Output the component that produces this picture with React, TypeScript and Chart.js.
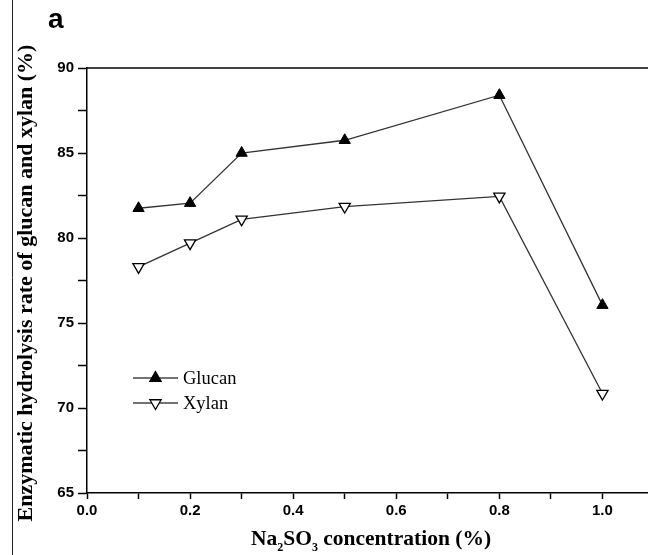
import React, { useEffect, useRef } from "react";
import { Chart, registerables } from "chart.js";

Chart.register(...registerables);

const xValues = [0.1, 0.2, 0.3, 0.5, 0.8, 1.0];
const glucan = [81.75, 82.05, 85.0, 85.75, 88.4, 76.05];
const xylan = [78.3, 79.7, 81.1, 81.85, 82.45, 70.85];
const seriesNames = ["Glucan", "Xylan"];
const yTitle = "Enzymatic hydrolysis rate of glucan and xylan (%)";
const panelLabel = "a";

const CW = 662;
const CH = 555;

const overlay = {
  id: "overlay",
  afterDraw(chart: any) {
    const { ctx, chartArea } = chart;
    ctx.save();
    // top frame line
    ctx.strokeStyle = "#000";
    ctx.lineWidth = 1.5;
    ctx.beginPath();
    ctx.moveTo(chartArea.left, chartArea.top);
    ctx.lineTo(chartArea.right, chartArea.top);
    ctx.stroke();
    // left edge line of the figure
    ctx.strokeStyle = "#222";
    ctx.lineWidth = 1;
    ctx.beginPath();
    ctx.moveTo(12.5, 0);
    ctx.lineTo(12.5, CH);
    ctx.stroke();

    // panel label
    ctx.fillStyle = "#000";
    ctx.font = "bold 28px 'Liberation Sans', Arial, sans-serif";
    ctx.textBaseline = "alphabetic";
    ctx.textAlign = "left";
    ctx.fillText(panelLabel, 48, 28);

    // y title
    ctx.save();
    ctx.translate(26, 283);
    ctx.rotate(-Math.PI / 2);
    ctx.font = "bold 22px 'Liberation Serif', 'Times New Roman', serif";
    ctx.textAlign = "center";
    ctx.textBaseline = "middle";
    ctx.fillText(yTitle, 0, 0);
    ctx.restore();

    // x title with subscripts
    const big = "bold 21.5px 'Liberation Serif', 'Times New Roman', serif";
    const small = "bold 12px 'Liberation Serif', 'Times New Roman', serif";
    const parts: [string, boolean][] = [
      ["Na", false],
      ["2", true],
      ["SO", false],
      ["3", true],
      [" concentration (%)", false],
    ];
    ctx.textAlign = "left";
    ctx.textBaseline = "alphabetic";
    let total = 0;
    for (const [t, sub] of parts) {
      ctx.font = sub ? small : big;
      total += ctx.measureText(t).width;
    }
    let x = 371 - total / 2;
    const base = 545;
    for (const [t, sub] of parts) {
      ctx.font = sub ? small : big;
      ctx.fillText(t, x, sub ? base + 6 : base);
      x += ctx.measureText(t).width;
    }

    // legend
    const legendRows = [
      { y: 378, fill: "#000", rot: 0 },
      { y: 403, fill: "#fff", rot: 180 },
    ];
    legendRows.forEach((r, i) => {
      ctx.strokeStyle = "#444";
      ctx.lineWidth = 1.3;
      ctx.beginPath();
      ctx.moveTo(133, r.y);
      ctx.lineTo(178, r.y);
      ctx.stroke();
      ctx.fillStyle = r.fill;
      ctx.strokeStyle = "#000";
      ctx.lineWidth = 1.3;
      const rad = 6.5;
      const ang = (r.rot * Math.PI) / 180;
      ctx.beginPath();
      for (let k = 0; k < 3; k++) {
        const a = ang - Math.PI / 2 + (k * 2 * Math.PI) / 3;
        const px = 155.5 + rad * Math.cos(a);
        const py = r.y + rad * Math.sin(a);
        if (k === 0) ctx.moveTo(px, py);
        else ctx.lineTo(px, py);
      }
      ctx.closePath();
      ctx.fill();
      ctx.stroke();
      ctx.fillStyle = "#000";
      ctx.font = "18.5px 'Liberation Serif', 'Times New Roman', serif";
      ctx.textBaseline = "middle";
      ctx.fillText(seriesNames[i], 183, r.y + 1);
    });
    ctx.restore();
  },
};

export default function App() {
  const ref = useRef<HTMLCanvasElement>(null);
  useEffect(() => {
    if (!ref.current) return;
    const tickFont = { family: "'Liberation Sans', Arial, sans-serif", size: 15, weight: "bold" as const };
    const chart = new Chart(ref.current, {
      type: "line",
      data: {
        datasets: [
          {
            label: seriesNames[0],
            data: xValues.map((x, i) => ({ x, y: glucan[i] })),
            borderColor: "#333",
            borderWidth: 1.3,
            pointStyle: "triangle",
            pointRadius: 6.5,
            pointBackgroundColor: "#000",
            pointBorderColor: "#000",
            pointBorderWidth: 1,
            tension: 0,
          },
          {
            label: seriesNames[1],
            data: xValues.map((x, i) => ({ x, y: xylan[i] })),
            borderColor: "#333",
            borderWidth: 1.3,
            pointStyle: "triangle",
            pointRotation: 180,
            pointRadius: 6.5,
            pointBackgroundColor: "#fff",
            pointBorderColor: "#000",
            pointBorderWidth: 1.3,
            tension: 0,
          },
        ],
      },
      options: {
        responsive: false,
        animation: false,
        devicePixelRatio: 1,
        layout: { padding: { left: 0, top: 68, right: CW - 654, bottom: 0 } },
        plugins: { legend: { display: false }, tooltip: { enabled: false } },
        scales: {
          x: {
            type: "linear",
            min: 0,
            max: 1.1,
            afterFit: (s: any) => {
              s.height = CH - 493;
            },
            ticks: {
              stepSize: 0.1,
              autoSkip: false,
              maxRotation: 0,
              color: "#000",
              font: tickFont,
              padding: 3,
              callback: (v: any) => {
                const n = Math.round(Number(v) * 10);
                return n % 2 === 0 && n <= 10 ? (n / 10).toFixed(1) : "";
              },
            },
            grid: { drawOnChartArea: false, drawTicks: true, tickLength: 6, color: "#000", tickWidth: 1.5 },
            border: { display: true, color: "#000", width: 1.5 },
          },
          y: {
            type: "linear",
            min: 65,
            max: 90,
            afterFit: (s: any) => {
              s.width = 87;
            },
            ticks: {
              stepSize: 2.5,
              autoSkip: false,
              color: "#000",
              font: tickFont,
              padding: 4,
              callback: (v: any) => (Number(v) % 5 === 0 ? String(v) : ""),
            },
            grid: { drawOnChartArea: false, drawTicks: true, tickLength: 9, color: "#000", tickWidth: 1.5 },
            border: { display: true, color: "#000", width: 1.5 },
          },
        },
      },
      plugins: [overlay],
    });
    return () => chart.destroy();
  }, []);
  return (
    <div
      style={{
        position: "absolute",
        left: 0,
        top: 0,
        width: 648,
        height: 555,
        overflow: "hidden",
        background: "#fff",
      }}
    >
      <canvas ref={ref} width={CW} height={CH} style={{ display: "block", width: CW, height: CH }} />
    </div>
  );
}
